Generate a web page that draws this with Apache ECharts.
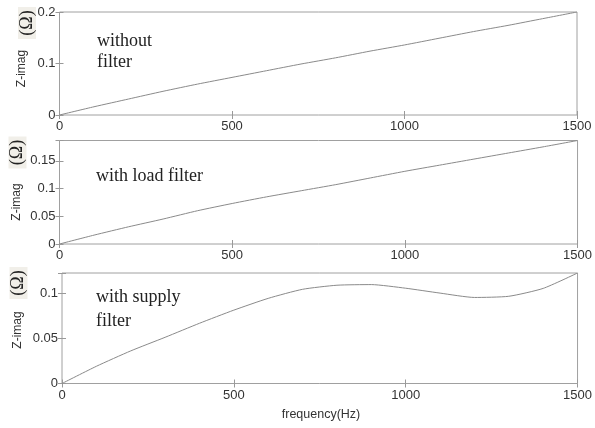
<!DOCTYPE html>
<html>
<head>
<meta charset="utf-8">
<script src="https://cdn.jsdelivr.net/npm/echarts@6/dist/echarts.min.js"></script>
<style>
  html, body { margin: 0; padding: 0; background: #fff; }
  #chart { width: 595px; height: 428px; }
</style>
</head>
<body>
<div id="chart"></div>
<script>
// frequency samples (Hz)
var freq = [0, 100, 200, 300, 400, 500, 600, 700, 800, 900, 1000, 1100, 1200, 1300, 1400, 1500];
// Z-imag (Ohm)
var withoutFilter = [0, 0.016, 0.031, 0.046, 0.060, 0.073, 0.086, 0.099, 0.111, 0.124, 0.136, 0.149, 0.162, 0.174, 0.187, 0.2];
var loadFilter = [0, 0.016, 0.031, 0.045, 0.060, 0.073, 0.085, 0.096, 0.107, 0.119, 0.131, 0.142, 0.153, 0.164, 0.175, 0.1865];
var supplyFilter = [0, 0.019, 0.036, 0.051, 0.0665, 0.081, 0.094, 0.104, 0.1085, 0.1092, 0.1052, 0.0998, 0.095, 0.0963, 0.105, 0.122];

var panelNames = [['without', 'filter'], ['with load filter'], ['with supply', 'filter']];
var yMax = [0.2, 0.1865, 0.122];
var yStep = [0.1, 0.05, 0.05];

var chart = echarts.init(document.getElementById('chart'));

var grids = [
    { left: 59.5, top: 12, width: 517.5, height: 103 },
    { left: 59.5, top: 140.5, width: 521, height: 103.5 },
    { left: 62, top: 273, width: 518, height: 110.5 }
];

var labelFont = { color: '#333', fontFamily: '"Liberation Sans", Arial', fontSize: 13 };
var tickStyle = { show: true, inside: true, length: 4, lineStyle: { color: '#999' } };

var xAxes = [], yAxes = [], series = [];
var datasets = [withoutFilter, loadFilter, supplyFilter];

grids.forEach(function (g, i) {
    g.show = true;
    g.borderColor = '#a0a0a0';
    g.borderWidth = 1;
    g.containLabel = false;
    xAxes.push({
        type: 'value', gridIndex: i, min: 0, max: 1500, interval: 500,
        axisLine: { show: false }, splitLine: { show: false },
        axisTick: tickStyle,
        axisLabel: Object.assign({ margin: 5, formatter: function (v) { return String(v); } }, labelFont)
    });
    xAxes.push({
        type: 'value', gridIndex: i, position: 'top', min: 0, max: 1500, interval: 500,
        axisLine: { show: false }, splitLine: { show: false },
        axisTick: tickStyle, axisLabel: { show: false }
    });
    var step = yStep[i];
    var fmt = function (v) {
        var k = v / step;
        if (Math.abs(k - Math.round(k)) > 1e-6) return '';
        return String(Math.round(k) * Math.round(step * 100) / 100);
    };
    yAxes.push({
        type: 'value', gridIndex: i, min: 0, max: yMax[i], interval: step,
        axisLine: { show: false }, splitLine: { show: false },
        axisTick: tickStyle,
        axisLabel: Object.assign({ margin: 4, formatter: fmt }, labelFont)
    });
    yAxes.push({
        type: 'value', gridIndex: i, position: 'right', min: 0, max: yMax[i], interval: step,
        axisLine: { show: false }, splitLine: { show: false },
        axisTick: tickStyle, axisLabel: { show: false }
    });
    series.push({
        type: 'line', xAxisIndex: i * 2, yAxisIndex: i * 2,
        data: freq.map(function (f, j) { return [f, datasets[i][j]]; }),
        smooth: 0.2, showSymbol: false, silent: true,
        lineStyle: { color: '#8a8a8a', width: 1 }
    });
});

// axis titles and in-panel notes
var graphics = [];
var zCenters = [[22, 68.5], [17, 202], [18, 330]];
var omegaCenters = [[27, 23], [17.5, 152.5], [18.5, 283]];
zCenters.forEach(function (c, i) {
    graphics.push({
        type: 'text', x: c[0], y: c[1], rotation: Math.PI / 2,
        style: { text: 'Z-imag', font: '12px "Liberation Sans", Arial', fill: '#333', align: 'center', verticalAlign: 'middle' }
    });
    var o = omegaCenters[i];
    graphics.push({
        type: 'rect', x: o[0] - 9, y: o[1] - 16,
        shape: { width: 18, height: 32 },
        style: { fill: '#f1efe9' }
    });
    graphics.push({
        type: 'text', x: o[0], y: o[1], rotation: Math.PI / 2,
        style: { text: '(Ω)', font: '18px "Liberation Serif", "Times New Roman"', fill: '#222', align: 'center', verticalAlign: 'middle' }
    });
});

var notePos = [[[97, 41], [97, 62.5]], [[96, 176]], [[96, 297.5], [96, 321]]];
panelNames.forEach(function (lines, i) {
    lines.forEach(function (t, j) {
        graphics.push({
            type: 'text', x: notePos[i][j][0], y: notePos[i][j][1],
            style: { text: t, font: '18px "Liberation Serif", "Times New Roman"', fill: '#222', align: 'left', verticalAlign: 'middle' }
        });
    });
});

graphics.push({
    type: 'text', x: 321, y: 415,
    style: { text: 'frequency(Hz)', font: '12.5px "Liberation Sans", Arial', fill: '#333', align: 'center', verticalAlign: 'middle' }
});

chart.setOption({
    animation: false,
    grid: grids,
    xAxis: xAxes,
    yAxis: yAxes,
    series: series,
    graphic: graphics
});
</script>
</body>
</html>
